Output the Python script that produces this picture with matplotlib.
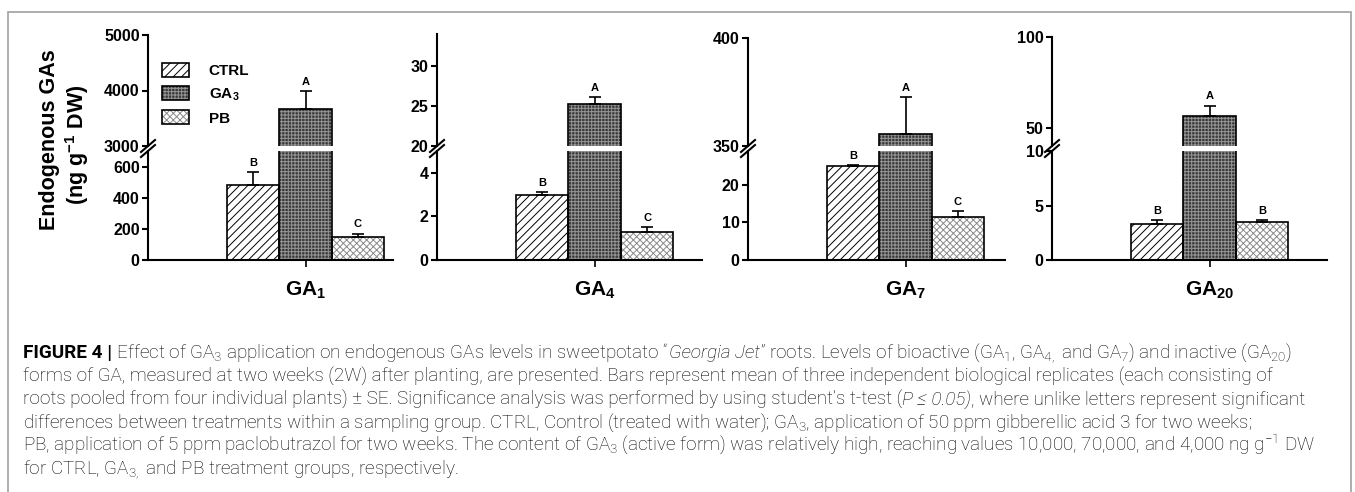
import matplotlib
matplotlib.use("Agg")
import matplotlib.pyplot as plt
from matplotlib import font_manager
from matplotlib.patches import Patch, Rectangle
from matplotlib.lines import Line2D

# values (ng g-1 DW)
groups = ["GA$_1$", "GA$_4$", "GA$_7$", "GA$_{20}$"]
treatments = ["CTRL", "GA$_3$", "PB"]
ctrl = [480, 3.0, 25.0, 3.3]
ctrl_se = [85, 0.1, 0.3, 0.35]
ga3 = [3660, 25.3, 355.5, 56.7]
ga3_se = [335, 0.8, 17, 5.5]
pb = [150, 1.3, 11.5, 3.5]
pb_se = [20, 0.2, 1.6, 0.15]
ctrl_letter = ["B", "B", "B", "B"]
ga3_letter = ["A", "A", "A", "A"]
pb_letter = ["C", "C", "C", "B"]

# broken y axes: lower part / upper part
lower_lim = [(0, 700), (0, 5), (0, 29), (0, 10)]
upper_lim = [(3000, 5000), (20, 34), (350, 400), (40, 100)]
lower_ticks = [[0, 200, 400, 600], [0, 2, 4], [0, 10, 20], [0, 5, 10]]
upper_ticks = [[3000, 4000, 5000], [20, 25, 30], [350, 400], [50, 100]]

plt.rcParams["font.family"] = ["Liberation Sans", "DejaVu Sans"]
plt.rcParams["font.weight"] = "bold"
plt.rcParams["mathtext.fontset"] = "custom"
plt.rcParams["mathtext.default"] = "regular"
plt.rcParams["hatch.linewidth"] = 0.7

W, H = 1355, 492
fig = plt.figure(figsize=(W / 100, H / 100), dpi=100)

# panel layout in pixels
x_left = [148, 437, 748, 1052]
x_right = [393, 702, 1005, 1327]
y_top = [35, 34, 37.7, 36.7]
y_zero, y_lowtop, y_upbot = 260, 151, 146
bar_px = 52.5

styles = [
    dict(face="white", hatch="////", hcol="black"),
    dict(face="#3a3a3a", hatch="+++++", hcol="#959595"),
    dict(face="white", hatch="xxxxx", hcol="#8a8a8a"),
]


def draw_bar(ax, x, v, st):
    ax.bar(x, v, width=1, color=st["face"], edgecolor=st["hcol"], hatch=st["hatch"], linewidth=0, zorder=2)
    ax.bar(x, v, width=1, fill=False, edgecolor="black", linewidth=1.2, zorder=3)


for i in range(4):
    L, R = x_left[i], x_right[i]
    xmax = (R - L) / bar_px - 3
    axl = fig.add_axes([L / W, 1 - y_zero / H, (R - L) / W, (y_zero - y_lowtop) / H])
    axu = fig.add_axes([L / W, 1 - y_upbot / H, (R - L) / W, (y_upbot - y_top[i]) / H])
    axl.set_ylim(*lower_lim[i])
    axu.set_ylim(*upper_lim[i])
    for ax in (axl, axu):
        ax.set_xlim(-3, xmax)
        ax.patch.set_alpha(0)
        for s in ("top", "right"):
            ax.spines[s].set_visible(False)
        ax.spines["left"].set_linewidth(1.5)
        ax.spines["bottom"].set_linewidth(1.5)
        ax.tick_params(axis="y", direction="out", length=4, width=1.5, labelsize=11.5, pad=2)
    axu.spines["bottom"].set_visible(False)
    axu.set_xticks([])
    axl.set_xticks([0])
    axl.set_xticklabels([groups[i]])
    axl.tick_params(axis="x", direction="out", length=5, width=1.2, labelsize=15, pad=9)
    axl.set_yticks(lower_ticks[i])
    axu.set_yticks(upper_ticks[i])

    vals = [ctrl[i], ga3[i], pb[i]]
    ses = [ctrl_se[i], ga3_se[i], pb_se[i]]
    lets = [ctrl_letter[i], ga3_letter[i], pb_letter[i]]
    for j in range(3):
        x = j - 1
        for ax in (axl, axu):
            draw_bar(ax, x, vals[j], styles[j])
            ax.errorbar(x, vals[j], yerr=[[0], [ses[j]]], fmt="none", ecolor="black",
                        elinewidth=1.2, capsize=4, capthick=1.2, zorder=4)
        top = vals[j] + ses[j]
        ax = axl if top <= lower_lim[i][1] else axu
        ax.annotate(lets[j], (x, top), xytext=(0, 3), textcoords="offset points",
                    ha="center", va="bottom", fontsize=8, fontweight="bold")

    # break marks on the y axis
    for yb in (y_upbot, y_lowtop):
        fig.add_artist(Line2D([(L - 7) / W, (L + 7) / W], [1 - (yb + 6) / H, 1 - (yb - 6) / H],
                              color="black", lw=1.5))

    if i == 0:
        handles = []
        for st in styles:
            handles.append((Patch(facecolor=st["face"], edgecolor=st["hcol"], hatch=st["hatch"], linewidth=0),
                            Patch(fill=False, edgecolor="black", linewidth=1.2)))
        fig.legend(handles, treatments, loc="upper left", bbox_to_anchor=(162 / W, 1 - 63 / H),
                   frameon=False, fontsize=11, handlelength=1.75, handleheight=1.05,
                   labelspacing=0.5, handletextpad=1.3, borderpad=0, borderaxespad=0)

fig.text(49 / W, 1 - 140 / H, "Endogenous GAs", rotation=90, ha="center", va="center",
         fontsize=15.5, fontweight="bold")
fig.text(77 / W, 1 - 145 / H, "(ng g$^{-1}$ DW)", rotation=90, ha="center", va="center",
         fontsize=15.5, fontweight="bold")

# grey frame round the figure
fig.add_artist(Rectangle((8 / W, -0.1), (1351 - 8) / W, 1.1 - 12 / H, transform=fig.transFigure,
                         fill=False, edgecolor="#a0a0a0", lw=1.2))

# caption
ttf = font_manager.fontManager.ttflist
have_roboto_light = any(f.name == "Roboto" and f.weight in (300, "light") for f in ttf)
if have_roboto_light:
    cap_family = ["Roboto", "DejaVu Sans"]
    cap_weight = "light"
else:
    cap_family = ["Liberation Sans", "DejaVu Sans"]
    cap_weight = "normal"

caption = [
    [("FIGURE 4 |", "b"), (" Effect of GA$_3$ application on endogenous GAs levels in sweetpotato \u201c", "n"),
     ("Georgia Jet", "i"), ("\u201d roots. Levels of bioactive (GA$_1$, GA$_{4,}$ and GA$_7$) and inactive (GA$_{20}$)", "n")],
    [("forms of GA, measured at two weeks (2W) after planting, are presented. Bars represent mean of three "
      "independent biological replicates (each consisting of", "n")],
    [("roots pooled from four individual plants) \u00b1 SE. Significance analysis was performed by using "
      "student\u2019s t-test (", "n"), ("P \u2264 0.05)", "i"),
     (", where unlike letters represent significant", "n")],
    [("differences between treatments within a sampling group. CTRL, Control (treated with water); GA$_3$, "
      "application of 50 ppm gibberellic acid 3 for two weeks;", "n")],
    [("PB, application of 5 ppm paclobutrazol for two weeks. The content of GA$_3$ (active form) was relatively "
      "high, reaching values 10,000, 70,000, and 4,000 ng g$^{-1}$ DW", "n")],
    [("for CTRL, GA$_{3,}$ and PB treatment groups, respectively.", "n")],
]
# right ends of the caption lines 2-5 in the reference, used to size the font
line_ends = [1267, 1314, 1228, 1320]

renderer = fig.canvas.get_renderer()


def render_caption(size):
    texts = []
    widths = []
    for k, line in enumerate(caption):
        x = 23
        y = 358 + k * 23.3
        for txt, kind in line:
            kw = dict(family=cap_family, fontsize=size, color="black", va="baseline", ha="left")
            if kind == "b":
                kw["fontweight"] = "bold"
            else:
                kw["fontweight"] = cap_weight
            if kind == "i":
                kw["fontstyle"] = "italic"
            t = fig.text(x / W, 1 - y / H, txt, **kw)
            texts.append(t)
            x += t.get_window_extent(renderer=renderer).width
        widths.append(x - 23)
    return texts, widths


texts, widths = render_caption(12)
scale = sum(e - 23 for e in line_ends) / sum(widths[1:5])
for t in texts:
    t.remove()
render_caption(12 * scale)

fig.savefig("out.png", dpi=100)
